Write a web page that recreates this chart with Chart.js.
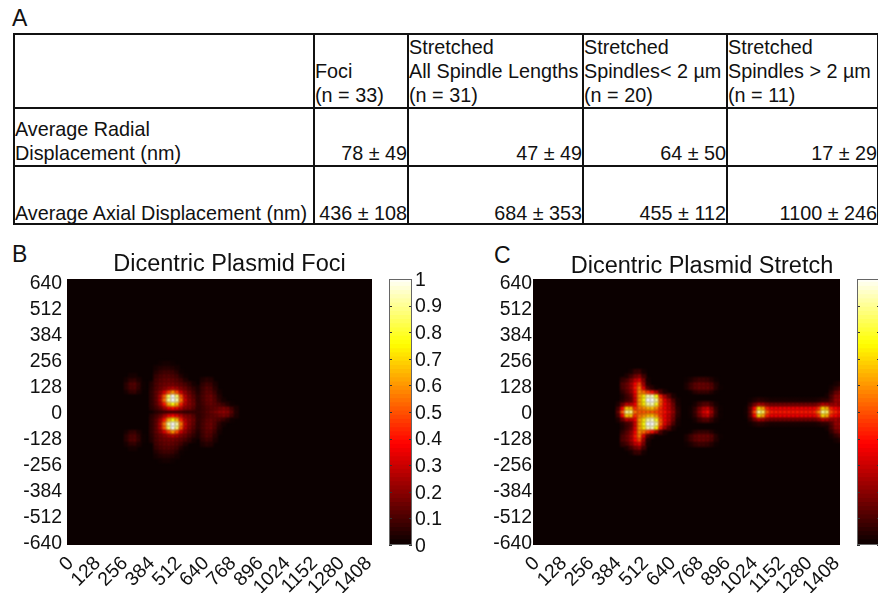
<!DOCTYPE html>
<html>
<head>
<meta charset="utf-8">
<script src="https://cdn.jsdelivr.net/npm/chart.js@4"></script>
<style>
html,body{margin:0;padding:0;background:#fff;width:878px;height:593px;overflow:hidden;font-family:"Liberation Sans",Arial,sans-serif;color:#111}
canvas{position:absolute}
.tag{position:absolute;font-size:23px;line-height:23px}
table{position:absolute;left:13px;top:33px;width:864px;border-collapse:collapse;table-layout:fixed;font-size:19.8px;line-height:24px}
td{border:2px solid #111;padding:0;vertical-align:bottom;overflow:visible;white-space:nowrap}
td.v{text-align:right;padding:0}
tr.low td{line-height:20px}
</style>
</head>
<body>
<div class="tag" style="left:12px;top:7px">A</div>
<div class="tag" style="left:12px;top:243px">B</div>
<div class="tag" style="left:494px;top:244px">C</div>
<table id="tbl"></table>
<canvas id="foci" width="459" height="353" style="left:0;top:240px"></canvas>
<canvas id="stretch" width="444" height="353" style="left:480px;top:240px"></canvas>
<canvas id="barB" width="98" height="353" style="left:380px;top:240px"></canvas>
<canvas id="barC" width="98" height="353" style="left:848px;top:240px"></canvas>
<script>
// ---- Table A ----
const tableHeader = ["", "Foci<br>(n = 33)", "Stretched<br>All Spindle Lengths<br>(n = 31)", "Stretched<br>Spindles&lt; 2 µm<br>(n = 20)", "Stretched<br>Spindles &gt; 2 µm<br>(n = 11)"];
const radialRow = ["Average Radial<br>Displacement (nm)", "78 ± 49", "47 ± 49", "64 ± 50", "17 ± 29"];
const axialRow = ["Average Axial Displacement (nm)", "436 ± 108", "684 ± 353", "455 ± 112", "1100 ± 246"];

// ---- Axis ticks ----
const xTicks = [0,128,256,384,512,640,768,896,1024,1152,1280,1408];
const yTicks = [640,512,384,256,128,0,-128,-256,-384,-512,-640];
const barTicks = [0,0.1,0.2,0.3,0.4,0.5,0.6,0.7,0.8,0.9,1];

// ---- Panel B: intensity (percent). Columns x = 260..800 nm in 20 nm steps; rows y = 0,20,40.. nm (mirrored about y = 0)
const fociStartX = 260;
const fociRow000 = [0,0,0,0,0,0,0,1,4,6,7,7,7,7,7,6,6,6,7,9,12,15,18,21,22,20,13,4];
const fociRow020 = [0,0,0,0,0,0,0,5,9,14,23,33,38,33,26,19,17,12,6,8,11,13,14,16,18,16,9,3];
const fociRow040 = [0,0,0,0,0,0,0,6,12,22,40,62,76,64,42,26,20,15,7,9,13,15,13,11,8,4,1,0];
const fociRow060 = [0,0,0,0,0,0,0,6,13,26,54,90,100,92,56,30,20,14,6,10,14,16,12,6,2,0,0,0];
const fociRow080 = [0,0,0,0,0,0,0,6,13,25,50,84,100,86,50,27,18,12,6,10,14,16,11,4,0,0,0,0];
const fociRow100 = [0,2,6,7,3,0,0,6,13,20,32,46,60,48,30,21,15,9,4,9,13,13,8,2,0,0,0,0];
const fociRow120 = [0,5,10,11,6,1,0,5,11,15,19,23,26,23,18,15,10,6,3,8,12,11,5,0,0,0,0,0];
const fociRow140 = [0,5,11,12,7,1,0,4,10,14,16,17,17,15,13,10,6,2,0,6,9,8,3,0,0,0,0,0];
const fociRow160 = [0,2,6,7,3,0,0,0,9,12,14,15,14,12,9,4,0,0,0,3,5,4,0,0,0,0,0,0];
const fociRow180 = [0,0,2,2,0,0,0,0,7,10,12,12,11,9,4,1,0,0,0,0,0,0,0,0,0,0,0,0];
const fociRow200 = [0,0,0,0,0,0,0,0,4,7,9,9,8,5,1,0,0,0,0,0,0,0,0,0,0,0,0,0];
const fociRow220 = [0,0,0,0,0,0,0,0,2,4,5,5,4,2,0,0,0,0,0,0,0,0,0,0,0,0,0,0];
const fociRow240 = [0,0,0,0,0,0,0,0,0,1,2,2,1,0,0,0,0,0,0,0,0,0,0,0,0,0,0,0];
const fociRows = [fociRow000,fociRow020,fociRow040,fociRow060,fociRow080,fociRow100,fociRow120,fociRow140,fociRow160,fociRow180,fociRow200,fociRow220,fociRow240];

// ---- Panel C: columns x = 400..1440 nm in 20 nm steps; rows y = 0,20,40.. nm (mirrored about y = 0)
const stretchStartX = 400;
const stretchRow000 = [14,52,92,90,56,50,50,50,48,46,44,40,32,22,6, 0,0,2,8,20,32,40,24,8,1,0,0,0,0,0,2, 14,50,92,86,52, 43,42,42,42,42,42,42,42,42,42,44, 58,92,86,50,44,40];
const stretchRow020 = [9,36,68,66,44,54,58,64,66,58,44,36,28,18,5, 0,0,1,6,16,26,30,18,6,1,0,0,0,0,0,1, 12,38,70,62,42, 36,36,36,36,36,36,36,36,36,36,36, 44,70,64,42,38,34];
const stretchRow040 = [3,15,28,28,36,60,72,90,94,78,50,36,28,16,3, 0,0,0,2,7,11,12,7,2,0,0,0,0,0,0,0, 6,16,25,23,18, 16,16,16,16,16,16,16,16,16,16,16, 20,27,25,22,24,22];
const stretchRow060 = [0,4,9,13,30,60,76,100,100,90,52,34,24,11,2, 0,0,0,0,0,0,0,0,0,0,0,0,0,0,0,0, 1,3,5,4,3, 2,2,2,2,2,2,2,2,2,2,2, 3,5,6,12,22,24];
const stretchRow080 = [0,3,8,14,32,60,72,92,94,76,42,24,12,3,0, 0,0,0,0,0,0,0,0,0,0,0,0,0,0,0,0, 0,0,0,0,0, 0,0,0,0,0,0,0,0,0,0,0, 0,0,2,10,20,22];
const stretchRow100 = [0,6,12,20,36,58,54,46,40,26,10,3,0,0,0, 0,0,1,5,7,7,7,4,1,0,0,0,0,0,0,0, 0,0,0,0,0, 0,0,0,0,0,0,0,0,0,0,0, 0,0,0,6,14,18];
const stretchRow120 = [0,10,15,23,40,56,34,12,5,1,0,0,0,0,0, 0,3,8,13,15,15,15,12,5,1,0,0,0,0,0,0, 0,0,0,0,0, 0,0,0,0,0,0,0,0,0,0,0, 0,0,0,2,6,10];
const stretchRow140 = [0,11,15,23,38,48,24,4,0,0,0,0,0,0,0, 0,3,8,13,15,15,14,11,4,0,0,0,0,0,0,0, 0,0,0,0,0, 0,0,0,0,0,0,0,0,0,0,0, 0,0,0,0,2,4];
const stretchRow160 = [0,6,10,18,28,34,18,2,0,0,0,0,0,0,0, 0,1,3,6,8,8,7,4,1,0,0,0,0,0,0,0, 0,0,0,0,0, 0,0,0,0,0,0,0,0,0,0,0, 0,0,0,0,0,0];
const stretchRow180 = [0,0,3,9,16,20,9,0,0,0,0,0,0,0,0, 0,0,0,0,0,0,0,0,0,0,0,0,0,0,0,0, 0,0,0,0,0, 0,0,0,0,0,0,0,0,0,0,0, 0,0,0,0,0,0];
const stretchRow200 = [0,0,0,2,7,8,2,0,0,0,0,0,0,0,0, 0,0,0,0,0,0,0,0,0,0,0,0,0,0,0,0, 0,0,0,0,0, 0,0,0,0,0,0,0,0,0,0,0, 0,0,0,0,0,0];
const stretchRows = [stretchRow000,stretchRow020,stretchRow040,stretchRow060,stretchRow080,stretchRow100,stretchRow120,stretchRow140,stretchRow160,stretchRow180,stretchRow200];

const cellStep = 20;
const INK = '#111';
const FONT = '"Liberation Sans", Arial, sans-serif';

// MATLAB "hot" colour map
function hot(v){
  const r = Math.min(1, 0.042 + v/0.375*0.958);
  const g = Math.max(0, Math.min(1, (v-0.375)/0.375));
  const b = Math.max(0, Math.min(1, (v-0.75)/0.25));
  return `rgb(${Math.round(r*255)},${Math.round(g*255)},${Math.round(b*255)})`;
}

// table
(function(){
  const t = document.getElementById('tbl');
  const widths = [300,94,175,144,151];
  const rows = [[tableHeader,72,''],[radialRow,58,''],[axialRow,58,'low']];
  let html = '<colgroup>'+widths.map(w=>`<col style="width:${w}px">`).join('')+'</colgroup>';
  rows.forEach(([r,h,cls],ri)=>{
    html += `<tr class="${cls}" style="height:${h}px">`+r.map((c,i)=>`<td class="${ri>0&&i>0?'v':''}">${c}</td>`).join('')+'</tr>';
  });
  t.innerHTML = html;
})();

const plotBg = {
  id:'plotBg',
  beforeDatasetsDraw(c){
    const a=c.chartArea, ctx=c.ctx; ctx.save(); ctx.fillStyle=hot(0);
    ctx.fillRect(a.left,a.top,a.width,a.height); ctx.restore();
    ctx.filter='blur(0.8px)';
  },
  afterDatasetsDraw(c){ c.ctx.filter='none'; }
};

function cells(rows,startX){
  const pts=[], cols=[];
  rows.forEach((row,i)=>{
    const ys = i===0 ? [0] : [i*cellStep,-i*cellStep];
    ys.forEach(y=>row.forEach((v,j)=>{
      if(v>0){ pts.push({x:startX+j*cellStep,y}); cols.push(hot(v/100)); }
    }));
  });
  return {pts,cols};
}

function panel(id,title,rows,startX,yWidth,yPad,rightPad,titleTop,titleBottom){
  const {pts,cols}=cells(rows,startX);
  return new Chart(document.getElementById(id),{
    type:'scatter',
    data:{datasets:[{data:pts,backgroundColor:cols,pointStyle:'rect',pointRadius:3.3,pointBorderWidth:0,pointHoverRadius:3.3}]},
    plugins:[plotBg],
    options:{
      responsive:false,animation:false,devicePixelRatio:1,events:[],
      plugins:{legend:{display:false},tooltip:{enabled:false},
        title:{display:true,text:title,color:INK,font:{family:FONT,size:23.5,weight:'normal',lineHeight:1},padding:{top:titleTop,bottom:titleBottom}}},
      scales:{
        x:{type:'linear',min:0,max:1440,
          grid:{display:false,drawTicks:false},border:{display:false},
          afterBuildTicks:s=>{s.ticks=xTicks.map(v=>({value:v}));},
          afterFit:s=>{s.height=48;},
          ticks:{autoSkip:false,minRotation:45,maxRotation:45,padding:7,labelOffset:3.5,color:INK,font:{family:FONT,size:19.4},callback:v=>String(v)}},
        y:{type:'linear',min:-655,max:655,
          grid:{display:false,drawTicks:false},border:{display:false},
          afterBuildTicks:s=>{s.ticks=yTicks.map(v=>({value:v}));},
          afterFit:s=>{s.width=yWidth;},
          ticks:{autoSkip:false,padding:yPad,labelOffset:2,color:INK,font:{family:FONT,size:19.4},callback:v=>String(v)}},
        spacer:{type:'linear',position:'right',display:true,
          grid:{display:false,drawTicks:false},border:{display:false},ticks:{display:false},
          afterFit:s=>{s.width=rightPad;}}
      }
    }
  });
}

panel('foci','Dicentric Plasmid Foci',fociRows,fociStartX,67,5,87,13.25,2.25);
panel('stretch','Dicentric Plasmid Stretch',stretchRows,stretchStartX,53,1,84,14.95,0.55);

// colour bars
const barLevels = Array.from({length:64},(_,i)=>i/64);
const barFrame = {
  id:'barFrame',
  afterDatasetsDraw(c){
    const a=c.chartArea, s=c.scales.y, ctx=c.ctx;
    ctx.save(); ctx.strokeStyle='#333'; ctx.lineWidth=1;
    barTicks.forEach(v=>{
      const y=Math.round(s.getPixelForValue(v))+0.5;
      ctx.beginPath(); ctx.moveTo(a.left,y); ctx.lineTo(a.left+3,y);
      ctx.moveTo(a.right-3,y); ctx.lineTo(a.right,y); ctx.stroke();
    });
    ctx.strokeStyle='#666';
    ctx.strokeRect(a.left+0.5,a.top+0.5,a.width-1,a.height-1);
    ctx.restore();
  }
};
function colorbar(id){
  return new Chart(document.getElementById(id),{
    type:'bar',
    data:{labels:['hot'],datasets:barLevels.map(v=>({
      data:[[v,Math.min(1,v+1/64+0.004)]],backgroundColor:hot(v+1/128),
      barPercentage:1,categoryPercentage:1,grouped:false,borderWidth:0}))},
    plugins:[barFrame],
    options:{
      responsive:false,animation:false,devicePixelRatio:1,events:[],
      layout:{padding:{left:9,right:0,top:39,bottom:48}},
      plugins:{legend:{display:false},tooltip:{enabled:false}},
      scales:{
        x:{display:false,grid:{display:false}},
        y:{type:'linear',position:'right',min:0,max:1,
          grid:{display:false,drawTicks:false},border:{display:false},
          afterBuildTicks:s=>{s.ticks=barTicks.map(v=>({value:v}));},
          afterFit:s=>{s.width=66;},
          ticks:{padding:3,labelOffset:1.5,color:INK,font:{family:FONT,size:19.4},callback:v=>String(v)}}
      }
    }
  });
}
colorbar('barB');
colorbar('barC');
</script>
</body>
</html>
